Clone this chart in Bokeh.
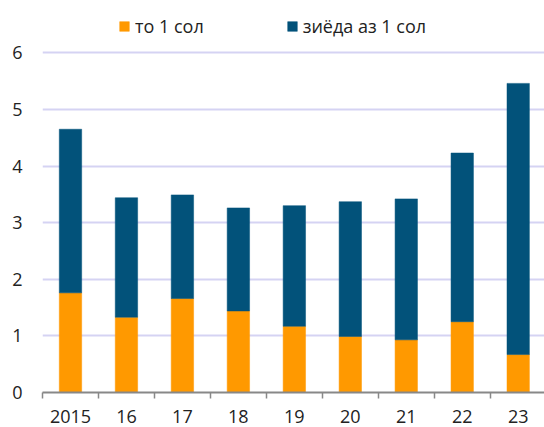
from bokeh.plotting import figure
from bokeh.models import ColumnDataSource, Range1d, FixedTicker, Legend, LegendItem
from bokeh.embed import file_html
from bokeh.resources import INLINE

categories = ["2015", "16", "17", "18", "19", "20", "21", "22", "23"]
up_to_1_year = [1.76, 1.33, 1.66, 1.44, 1.17, 0.99, 0.93, 1.25, 0.67]
over_1_year = [2.89, 2.11, 1.83, 1.82, 2.13, 2.38, 2.49, 2.98, 4.79]
series_labels = ["то 1 сол", "зиёда аз 1 сол"]
y_ticks = [0, 1, 2, 3, 4, 5, 6]

ORANGE = "#FF9900"
BLUE = "#02527A"
FONT = "Open Sans"
FS = "18px"

centers = [i + 0.5 for i in range(len(categories))]
bounds = list(range(len(categories) + 1))

src = ColumnDataSource(dict(x=centers, a=up_to_1_year, b=over_1_year))

p = figure(width=544, height=427, output_backend="svg", toolbar_location=None,
           x_range=Range1d(0, 8.97), y_range=Range1d(0, 6.924),
           min_border_left=42, min_border_right=0, min_border_top=0, min_border_bottom=35)
p.outline_line_color = None
p.background_fill_color = "white"

rs = p.vbar_stack(["a", "b"], x="x", width=0.4, source=src,
                  fill_color=[ORANGE, BLUE], line_color=[ORANGE, BLUE], line_width=0.5)

legend = Legend(items=[LegendItem(label=series_labels[0], renderers=[rs[0]]),
                       LegendItem(label=series_labels[1], renderers=[rs[1]])],
                orientation="horizontal", location=(76, 354),
                glyph_width=12, glyph_height=12, label_standoff=5, spacing=82,
                label_text_font=FONT, label_text_font_size=FS, label_text_color="#222222",
                border_line_color=None, background_fill_alpha=0, padding=4, margin=0)
p.add_layout(legend, "center")

# x axis
xa = p.xaxis[0]
xa.ticker = FixedTicker(ticks=centers, minor_ticks=bounds)
xa.major_label_overrides = {c: lab for c, lab in zip(centers, categories)}
xa.major_tick_line_color = None
xa.major_tick_out = 0
xa.major_tick_in = 0
xa.minor_tick_out = 6
xa.minor_tick_in = 0
xa.minor_tick_line_color = "#888888"
xa.minor_tick_line_width = 1.5
xa.axis_line_color = "#888888"
xa.axis_line_width = 2
xa.major_label_standoff = 11
xa.major_label_text_font = FONT
xa.major_label_text_font_size = FS
xa.major_label_text_color = "#222222"

# y axis
ya = p.yaxis[0]
ya.ticker = FixedTicker(ticks=y_ticks)
ya.axis_line_color = None
ya.major_tick_line_color = None
ya.minor_tick_line_color = None
ya.major_label_standoff = 14
ya.major_label_text_font = FONT
ya.major_label_text_font_size = FS
ya.major_label_text_color = "#222222"

p.xgrid.grid_line_color = None
p.ygrid.ticker = FixedTicker(ticks=y_ticks[1:])
p.ygrid.grid_line_color = "#D5D3F3"
p.ygrid.grid_line_width = 2

open("out.html", "w").write(file_html(p, INLINE))
